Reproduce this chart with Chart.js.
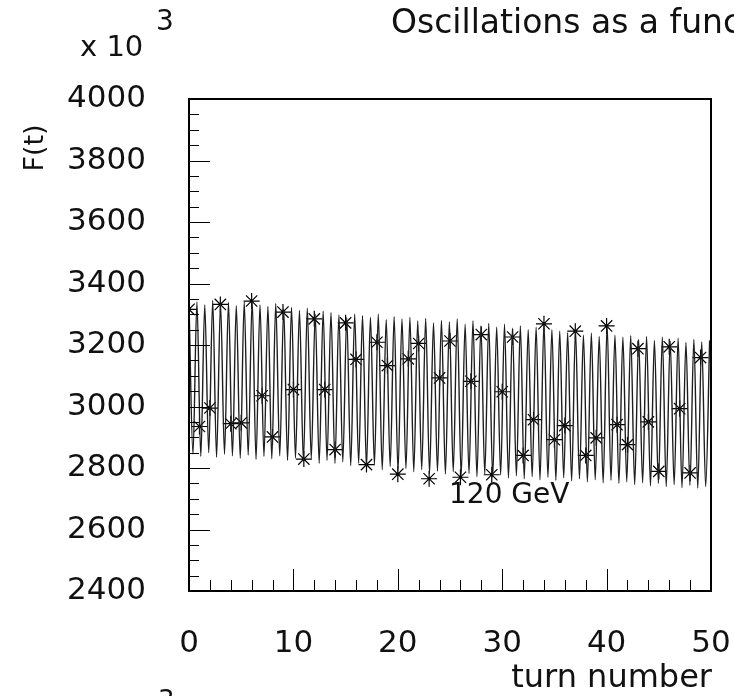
<!DOCTYPE html>
<html>
<head>
<meta charset="utf-8">
<script src="https://cdn.jsdelivr.net/npm/chart.js@4"></script>
<style>
  html, body { margin: 0; padding: 0; background: #fff; }
</style>
</head>
<body>
<canvas id="oscChart" width="734" height="696"></canvas>
<script>
// turn number of each sampled point (stars)
const starTurns = [0, 1, 2, 3, 4, 5, 6, 7, 8, 9, 10, 11, 12, 13, 14, 15, 16, 17, 18, 19,
    20, 21, 22, 23, 24, 25, 26, 27, 28, 29, 30, 31, 32, 33, 34, 35, 36, 37, 38, 39,
    40, 41, 42, 43, 44, 45, 46, 47, 48, 49];
// F(t) at each turn, in units of 10^3
const starValues = [3316, 2935, 2995, 3332, 2944, 2947, 3343, 3035, 2901, 3307,
    3055, 2829, 3285, 3055, 2860, 3272, 3153, 2811, 3209, 3133,
    2780, 3155, 3205, 2765, 3093, 3213, 2770, 3082, 3234, 2778,
    3048, 3226, 2841, 2957, 3269, 2892, 2938, 3245, 2841, 2898,
    3262, 2941, 2876, 3188, 2950, 2789, 3194, 2993, 2784, 3159];

// maxima of the continuous curve (turn, value)
const peakTurns = [0, 0.76, 1.51, 2.27, 3.02, 3.78, 4.53, 5.29, 6.05, 6.80,
    7.56, 8.31, 9.07, 9.82, 10.58, 11.33, 12.09, 12.85, 13.60, 14.36,
    15.11, 15.87, 16.62, 17.38, 18.13, 18.89, 19.65, 20.40, 21.16, 21.91,
    22.67, 23.42, 24.18, 24.94, 25.69, 26.45, 27.20, 27.96, 28.71, 29.47,
    30.22, 30.98, 31.74, 32.49, 33.25, 34.00, 34.76, 35.51, 36.27, 37.02,
    37.78, 38.54, 39.29, 40.05, 40.80, 41.56, 42.31, 43.07, 43.83, 44.58,
    45.34, 46.09, 46.85, 47.60, 48.36, 49.11, 49.87];
const peakValues = [3335, 3340, 3330, 3345, 3335, 3338, 3328, 3340, 3345, 3330,
    3325, 3335, 3318, 3322, 3312, 3320, 3300, 3310, 3305, 3298,
    3290, 3300, 3295, 3290, 3300, 3282, 3292, 3285, 3290, 3278,
    3286, 3272, 3280, 3275, 3285, 3268, 3278, 3262, 3270, 3258,
    3268, 3255, 3262, 3250, 3258, 3270, 3250, 3245, 3240, 3250,
    3232, 3238, 3228, 3265, 3232, 3225, 3230, 3218, 3228, 3215,
    3225, 3212, 3222, 3208, 3218, 3210, 3215];

// minima of the continuous curve (turn, value)
const troughTurns = [0.38, 1.13, 1.89, 2.64, 3.40, 4.16, 4.91, 5.67, 6.42, 7.18,
    7.93, 8.69, 9.44, 10.20, 10.96, 11.71, 12.47, 13.22, 13.98, 14.73,
    15.49, 16.25, 17.00, 17.76, 18.51, 19.27, 20.02, 20.78, 21.53, 22.29,
    23.04, 23.80, 24.56, 25.31, 26.07, 26.82, 27.58, 28.33, 29.09, 29.85,
    30.60, 31.36, 32.11, 32.87, 33.62, 34.38, 35.14, 35.89, 36.65, 37.40,
    38.16, 38.91, 39.67, 40.42, 41.18, 41.93, 42.69, 43.45, 44.20, 44.96,
    45.71, 46.47, 47.22, 47.98, 48.73, 49.49];
const troughValues = [2845, 2838, 2850, 2835, 2845, 2840, 2832, 2842, 2828, 2838,
    2830, 2840, 2825, 2832, 2822, 2830, 2815, 2825, 2815, 2820,
    2808, 2815, 2805, 2810, 2795, 2805, 2790, 2798, 2788, 2795,
    2782, 2790, 2780, 2788, 2775, 2782, 2772, 2780, 2770, 2778,
    2768, 2775, 2765, 2772, 2762, 2770, 2760, 2768, 2758, 2765,
    2755, 2762, 2752, 2760, 2750, 2755, 2746, 2752, 2742, 2750,
    2740, 2746, 2736, 2744, 2735, 2740];

const xTickValues = [0, 10, 20, 30, 40, 50];
const yTickValues = [2400, 2600, 2800, 3000, 3200, 3400, 3600, 3800, 4000];

const FONT = '"DejaVu Sans", "Liberation Sans", sans-serif';
const INK = '#111';

// curve points: maxima and minima merged in turn order
const curve = peakTurns.map((t, i) => ({ x: t, y: peakValues[i] }))
    .concat(troughTurns.map((t, i) => ({ x: t, y: troughValues[i] })))
    .sort((a, b) => a.x - b.x);
const stars = starTurns.map((t, i) => ({ x: t, y: starValues[i] }));

// ROOT style frame, inner ticks and free texts
const frameAndText = {
    id: 'frameAndText',
    afterDatasetsDraw(chart) {
        const { ctx, chartArea: a, scales: { x, y } } = chart;
        ctx.save();
        ctx.strokeStyle = '#000';
        ctx.lineWidth = 1;
        ctx.beginPath();
        for (let v = 2450; v < 4000; v += 50) {
            const py = Math.round(y.getPixelForValue(v)) + 0.5;
            const len = v % 200 === 0 ? 21 : 10;
            ctx.moveTo(a.left, py);
            ctx.lineTo(a.left + len, py);
        }
        for (let v = 2; v < 50; v += 2) {
            const px = Math.round(x.getPixelForValue(v)) + 0.5;
            const len = v % 10 === 0 ? 22 : 11;
            ctx.moveTo(px, a.bottom);
            ctx.lineTo(px, a.bottom - len);
        }
        ctx.stroke();

        ctx.lineWidth = 2;
        ctx.strokeRect(a.left, a.top, a.right - a.left, a.bottom - a.top);

        ctx.fillStyle = INK;
        ctx.textBaseline = 'alphabetic';
        ctx.textAlign = 'left';
        ctx.font = '33px ' + FONT;
        ctx.fillText('Oscillations as a function of turn number', 391, 33);

        ctx.font = '29px ' + FONT;
        ctx.fillText('x 10', 80, 56);
        ctx.font = '28px ' + FONT;
        ctx.fillText('3', 156, 30);

        ctx.font = '28px ' + FONT;
        ctx.fillText('120 GeV', 449, 503);

        ctx.textAlign = 'right';
        ctx.font = '32px ' + FONT;
        ctx.fillText('turn number', 712, 687);

        ctx.textAlign = 'left';
        ctx.font = '26px ' + FONT;
        ctx.fillText('3', 158, 709);

        ctx.translate(43, 148);
        ctx.rotate(-Math.PI / 2);
        ctx.textAlign = 'center';
        ctx.font = '27px ' + FONT;
        ctx.fillText('F(t)', 0, 0);
        ctx.restore();
    }
};

new Chart(document.getElementById('oscChart').getContext('2d'), {
    type: 'line',
    data: {
        datasets: [
            {
                data: curve,
                borderColor: '#1e1e1e',
                borderWidth: 1.4,
                pointRadius: 0,
                cubicInterpolationMode: 'monotone',
                clip: 0
            },
            {
                data: stars,
                showLine: false,
                pointStyle: 'star',
                pointRadius: 8,
                borderColor: '#000',
                backgroundColor: '#000',
                pointBorderWidth: 1.2,
                clip: 0
            }
        ]
    },
    options: {
        responsive: false,
        animation: false,
        layout: { padding: { left: 0, top: 99, right: 23, bottom: 0 } },
        plugins: { legend: { display: false }, tooltip: { enabled: false }, title: { display: false } },
        scales: {
            x: {
                type: 'linear',
                min: 0,
                max: 50,
                afterBuildTicks: s => { s.ticks = xTickValues.map(v => ({ value: v })); },
                afterFit: s => { s.height = 105; s.paddingLeft = 0; s.paddingRight = 0; },
                grid: { display: false, drawTicks: false },
                border: { display: false },
                ticks: { color: INK, font: { family: FONT, size: 31 }, padding: 34, maxRotation: 0 }
            },
            y: {
                min: 2400,
                max: 4000,
                afterBuildTicks: s => { s.ticks = yTickValues.map(v => ({ value: v })); },
                afterFit: s => { s.width = 189; s.paddingTop = 0; s.paddingBottom = 0; },
                grid: { display: false, drawTicks: false },
                border: { display: false },
                ticks: {
                    color: INK,
                    font: { family: FONT, size: 31 },
                    padding: 43,
                    callback: v => String(v)
                }
            }
        }
    },
    plugins: [frameAndText]
});
</script>
</body>
</html>
